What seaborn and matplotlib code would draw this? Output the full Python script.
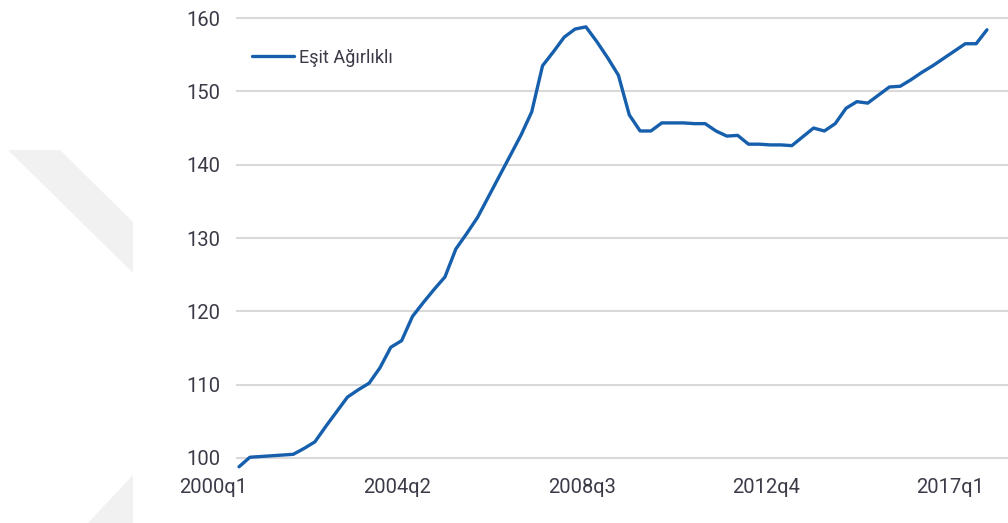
import matplotlib
matplotlib.use("Agg")
import matplotlib.pyplot as plt
import matplotlib.transforms as mtransforms
from matplotlib.patches import Polygon
import seaborn as sns
import pandas as pd
import numpy as np

# quarterly index, 2000q1 .. 2017q2
quarters = [f"{y}q{q}" for y in range(2000, 2018) for q in range(1, 5)][:70]
esit_agirlikli = [
    98.8, 100.1, 100.2, 100.3, 100.4, 100.5, 101.3, 102.2, 104.3, 106.3,
    108.3, 109.3, 110.2, 112.3, 115.1, 116.0, 119.3, 121.2, 123.0, 124.7,
    128.5, 130.6, 132.8, 135.6, 138.4, 141.2, 144.0, 147.2, 153.5, 155.4,
    157.4, 158.5, 158.8, 156.8, 154.6, 152.2, 146.8, 144.6, 144.6, 145.7,
    145.7, 145.7, 145.6, 145.6, 144.6, 143.9, 144.0, 142.8, 142.8, 142.7,
    142.7, 142.6, 143.8, 145.0, 144.6, 145.6, 147.7, 148.6, 148.4, 149.5,
    150.6, 150.7, 151.6, 152.6, 153.5, 154.5, 155.5, 156.5, 156.5, 158.4,
]
tick_labels = ["2000q1", "2004q2", "2008q3", "2012q4", "2017q1"]

df = pd.DataFrame({"t": np.arange(len(quarters)), "quarter": quarters,
                   "value": esit_agirlikli})

sns.set_style("white")
plt.rcParams["font.family"] = ["Roboto", "DejaVu Sans"]

W, H = 1008, 523
fig = plt.figure(figsize=(W / 100, H / 100), dpi=100)

# faint watermark shapes behind the chart (pixel coords -> figure fraction)
def px(pts):
    return [(x / W, 1 - y / H) for x, y in pts]

fig.patches.append(Polygon(px([(8, 150), (60, 150), (133, 222), (133, 273)]),
                           closed=True, facecolor="#f1f1f1", edgecolor="none",
                           transform=fig.transFigure, zorder=0))
fig.patches.append(Polygon(px([(88, 523), (133, 475), (133, 523)]),
                           closed=True, facecolor="#f1f1f1", edgecolor="none",
                           transform=fig.transFigure, zorder=0))

ax = fig.add_axes([236 / W, (H - 470) / H, (W - 236) / W, 460 / H])
ax.set_facecolor("none")

sns.lineplot(data=df, x="t", y="value", ax=ax, color="#165fac",
             linewidth=2.4, label="Eşit Ağırlıklı")

ax.set_xlim(-0.28, 70.94)
ax.set_ylim(98.36, 161.1)
ax.set_yticks(range(100, 161, 10))
ax.set_xticks([quarters.index(l) for l in tick_labels])
ax.set_xticklabels(tick_labels)
ax.grid(axis="y", color="#d9d9d9", linewidth=1.5)
ax.grid(axis="x", visible=False)
ax.set_axisbelow(True)
for s in ax.spines.values():
    s.set_visible(False)
ax.set_xlabel("")
ax.set_ylabel("")
ax.tick_params(axis="both", length=0, labelsize=14.5, labelcolor="#3b3b48")
ax.tick_params(axis="y", pad=11)
ax.tick_params(axis="x", pad=6)

# category labels sit a little left of their data points in the original
shift = mtransforms.ScaledTranslation(-26 / 100, 0, fig.dpi_scale_trans)
for lab in ax.get_xticklabels():
    lab.set_transform(lab.get_transform() + shift)

leg = ax.legend(loc="upper left", bbox_to_anchor=(16 / 772, 0.916),
                frameon=False, fontsize=13, handlelength=2.3,
                handletextpad=0.3, borderpad=0, borderaxespad=0)
for t in leg.get_texts():
    t.set_color("#3b3b48")

fig.savefig("out.png", dpi=100)
